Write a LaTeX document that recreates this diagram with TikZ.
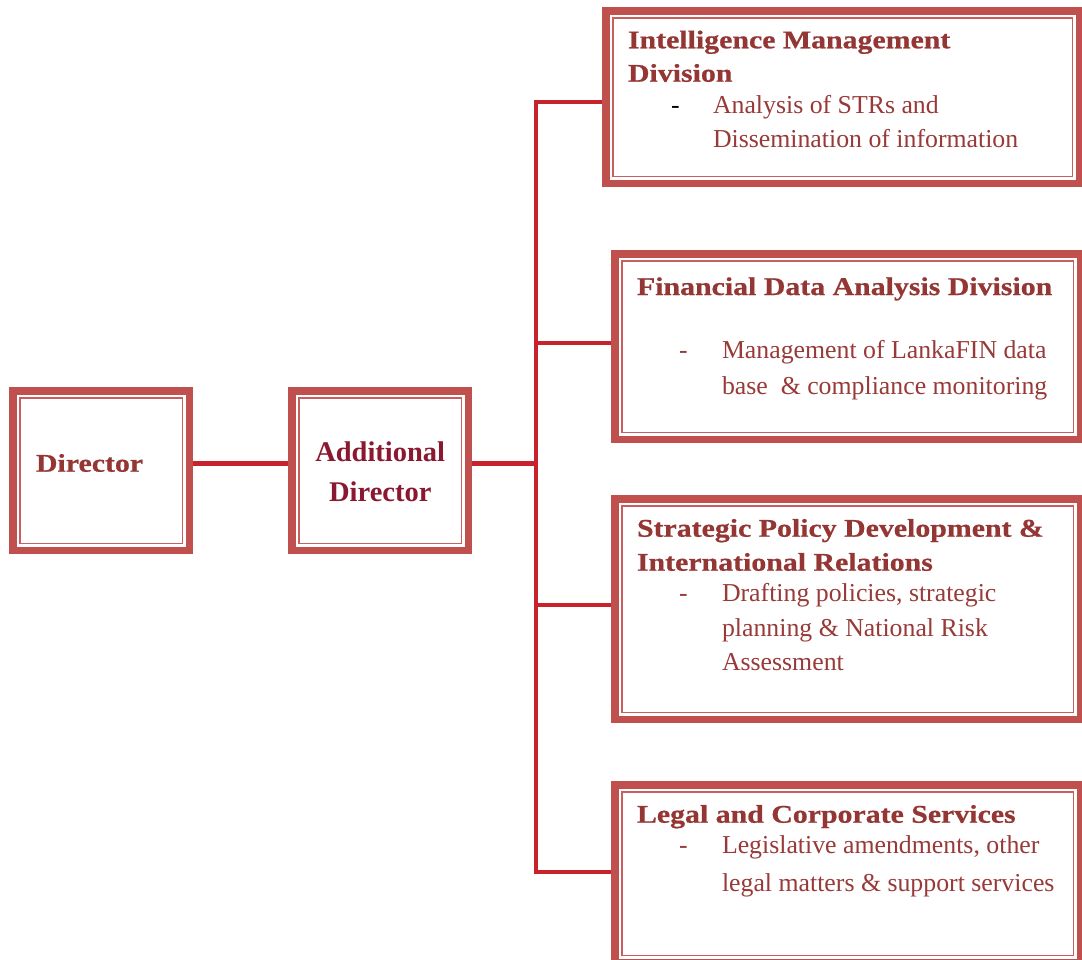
\documentclass[tikz,border=0pt]{standalone}
\usepackage{fontspec}
\setmainfont{Liberation Serif}
\newfontfamily\headfont{Liberation Serif}[FakeStretch=1.17,FakeBold=0.6]
\usetikzlibrary{calc,backgrounds}

\definecolor{frame}{RGB}{192,80,77}
\definecolor{frameline}{RGB}{200,95,92}
\definecolor{wire}{RGB}{200,35,45}
\definecolor{heading}{RGB}{148,54,52}
\definecolor{bodytext}{RGB}{152,58,56}
\definecolor{adtext}{RGB}{138,24,48}

\tikzset{
  box/.style={draw=frame, line width=7.5pt, inner sep=0pt, outer sep=0pt},
  innerline/.style={draw=frameline, line width=1.5pt},
  wire/.style={draw=wire, line width=4.5pt, line join=miter},
  head/.style={anchor=base west, inner sep=0pt, outer sep=0pt, text=heading,
    font=\headfont\bfseries\fontsize{25.5}{30}\selectfont},
  lead/.style={anchor=base west, inner sep=0pt, outer sep=0pt, text=adtext,
    font=\bfseries\fontsize{28.5}{34}\selectfont},
  item/.style={anchor=base west, inner sep=0pt, outer sep=0pt, text=bodytext,
    font=\fontsize{25.8}{35}\selectfont},
  bullet/.style={item},
}
% thin rule inside each framed box
\newcommand{\innerframe}[1]{%
  \draw[innerline] ($(#1.north west)+(7,7)$) rectangle ($(#1.south east)+(-7,-7)$);}

\begin{document}
\begin{tikzpicture}[x=1pt,y=-1pt]
  \clip (0,0) rectangle (1082,959);

  % framed boxes
  \node[box, minimum width=176.5pt, minimum height=159.5pt] (dir) at (101,470.5) {};
  \node[box, minimum width=176.5pt, minimum height=159.5pt] (add) at (380,470.5) {};
  \node[box, minimum width=473.5pt, minimum height=172.5pt] (b1) at (842.5,97) {};
  \node[box, minimum width=465.5pt, minimum height=185.5pt] (b2) at (847.5,346.5) {};
  \node[box, minimum width=465.5pt, minimum height=220.5pt] (b3) at (847.5,609) {};
  \node[box, minimum width=465.5pt, minimum height=177.5pt] (b4) at (847.5,873.5) {};
  \foreach \n in {dir,add,b1,b2,b3,b4} {\innerframe{\n}}

  % connectors, drawn beneath the frames
  \coordinate (h0) at (0,463.5);
  \coordinate (j1) at (536,102);
  \coordinate (j2) at (536,343);
  \coordinate (j3) at (536,605);
  \coordinate (j4) at (536,872);
  \begin{scope}[on background layer]
    \fill[white] (0,0) rectangle (1082,959);
    \draw[wire] (dir.east |- h0) -- (add.west |- h0);
    \draw[wire] (add.east |- h0) -- (j1 |- h0);
    \draw[wire] (j1 -| b1.west) -- (j1) -- (j4) -- (j4 -| b4.west);
    \draw[wire] (j2) -- (j2 -| b2.west);
    \draw[wire] (j3) -- (j3 -| b3.west);
  \end{scope}

  % Director
  \node[head] (dirt) at (36,471.7) {Director};
  % Additional Director
  \node[lead, anchor=base] (adt1) at (380.2,461.7) {Additional};
  \node[lead, anchor=base] (adt2) at (380.3,501.7) {Director};

  % Intelligence Management Division
  \node[head] (h1a) at (628,48.3) {Intelligence Management};
  \node[head] (h1b) at (628,81.7) {Division};
  \node[bullet, text=black] (d1) at (671,113.3) {-};
  \node[item] (i1a) at (713,113.3) {Analysis of STRs and};
  \node[item] (i1b) at (713,147.3) {Dissemination of information};

  % Financial Data Analysis Division
  \node[head] (h2a) at (637,295) {Financial Data Analysis Division};
  \node[bullet] (d2) at (679,358.3) {-};
  \node[item] (i2a) at (722,358.3) {Management of LankaFIN data};
  \node[item] (i2b) at (722,394) {base\ \ \& compliance monitoring};

  % Strategic Policy Development & International Relations
  \node[head] (h3a) at (637,536.7) {Strategic Policy Development \&};
  \node[head] (h3b) at (637,570.7) {International Relations};
  \node[bullet] (d3) at (679,601) {-};
  \node[item] (i3a) at (722,601) {Drafting policies, strategic};
  \node[item] (i3b) at (722,636.7) {planning \& National Risk};
  \node[item] (i3c) at (722,670) {Assessment};

  % Legal and Corporate Services
  \node[head] (h4a) at (637,822.7) {Legal and Corporate Services};
  \node[bullet] (d4) at (679,853.3) {-};
  \node[item] (i4a) at (722,853.3) {Legislative amendments, other};
  \node[item] (i4b) at (722,891.7) {legal matters \& support services};
\end{tikzpicture}
\end{document}
